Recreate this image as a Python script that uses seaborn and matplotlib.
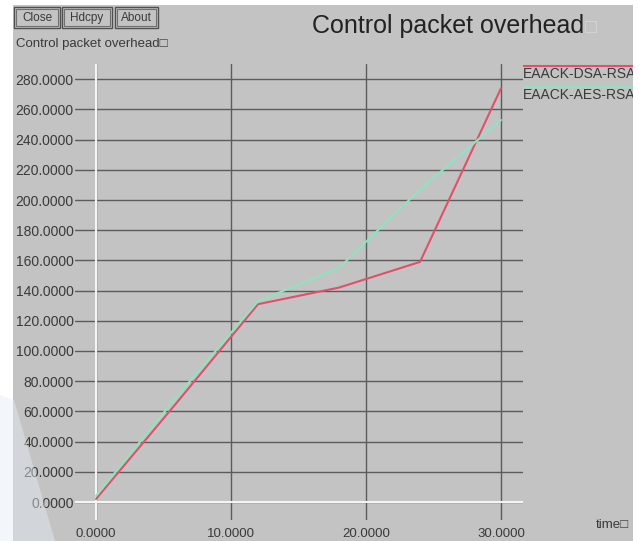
import numpy as np
import pandas as pd
import matplotlib
matplotlib.use("Agg")
import matplotlib.pyplot as plt
from matplotlib.patches import Rectangle, Polygon
import seaborn as sns

# --- data ---
time_pts = [0, 6, 12, 18, 24, 30]
dsa_rsa = [2, 66, 131, 142, 159, 274]
aes_rsa = [4, 70, 133, 155, 207, 253]
series_names = ["EAACK-DSA-RSA", "EAACK-AES-RSA"]
series_colors = ["#e0506a", "#8fe3c0"]
y_ticks = list(range(0, 281, 20))
x_ticks = [0, 10, 20, 30]

df = pd.concat([
    pd.DataFrame({"time": time_pts, "overhead": dsa_rsa, "series": series_names[0]}),
    pd.DataFrame({"time": time_pts, "overhead": aes_rsa, "series": series_names[1]}),
], ignore_index=True)

sns.set_style("white")
plt.rcParams["font.family"] = ["Liberation Sans", "DejaVu Sans"]

W, H = 639, 541
GRAY = "#c3c3c3"
TXT = "#3a3a3a"

fig = plt.figure(figsize=(W / 100, H / 100), dpi=100)
fig.patch.set_facecolor("white")

# window background, pixel coordinates
bg = fig.add_axes([13 / W, 0, 620 / W, 536 / H])
bg.set_xlim(13, 633)
bg.set_ylim(541, 5)
bg.set_facecolor(GRAY)
bg.axis("off")
bg.add_patch(Rectangle((13, 5), 620, 536, facecolor=GRAY, edgecolor="none", zorder=0))

# buttons
for x0, x1, label in [(14, 60, "Close"), (62, 112, "Hdcpy"), (115, 158, "About")]:
    bg.add_patch(Rectangle((x0, 7), x1 - x0, 21, facecolor="none", edgecolor="#505050", lw=1))
    bg.add_patch(Rectangle((x0 + 2, 9), x1 - x0 - 4, 17, facecolor="none", edgecolor="#707070", lw=0.8))
    bg.text((x0 + x1) / 2, 18, label, ha="center", va="center", fontsize=8.5, color=TXT)

bg.text(16, 44, "Control packet overhead\u25a1", ha="left", va="center", fontsize=9.5, color=TXT)
bg.text(312, 33, "Control packet overhead", ha="left", va="baseline", fontsize=18, color="#222222")
bg.text(585, 33, "\u25a1", ha="left", va="baseline", fontsize=14, color="#d8d8d8")
bg.text(596, 528, "time\u25a1", ha="left", va="baseline", fontsize=9.5, color=TXT)

# legend in xgraph style, clipped at window edge
for (ly, ty), name, col in zip([(66, 78), (87, 99)], series_names, series_colors):
    bg.plot([523, 640], [ly, ly], color=col, lw=1.5, solid_capstyle="butt", clip_on=True)
    bg.text(523, ty, name, ha="left", va="baseline", fontsize=10, color=TXT, clip_on=True)

# faint watermark at bottom-left
fig.patches.append(Polygon([(0, 1 - 395 / H), (14 / W, 1 - 400 / H), (55 / W, 0), (0, 0)],
                           closed=True, transform=fig.transFigure, facecolor="#e6edf4",
                           edgecolor="none", alpha=0.45, zorder=5))

# main plot
ax = fig.add_axes([75 / W, 1 - 520 / H, 448 / W, 456 / H])
ax.set_facecolor(GRAY)
ax.set_xlim(-21 / 13.5, 427 / 13.5)
ax.set_ylim(-18 / 1.51, 438 / 1.51)
for s in ax.spines.values():
    s.set_visible(False)

ax.set_xticks(x_ticks)
ax.set_yticks(y_ticks)
ax.set_xticklabels([f"{v:.4f}" for v in x_ticks])
ax.set_yticklabels([f"{v:.4f}" for v in y_ticks])
ax.tick_params(axis="both", length=0, labelsize=10, labelcolor=TXT)
ax.tick_params(axis="x", labelsize=9.5, pad=6)
ax.tick_params(axis="y", pad=1)
ax.grid(True, color="#5c5c5c", lw=1.0)
ax.set_axisbelow(True)
ax.axhline(0, color="#f4f4f4", lw=1.5, zorder=1)
ax.axvline(0, color="#f4f4f4", lw=1.5, zorder=1)

sns.lineplot(data=df, x="time", y="overhead", hue="series", palette=series_colors,
             hue_order=series_names, estimator=None, sort=False, lw=1.5,
             legend=False, ax=ax, zorder=3)
ax.set_xlabel("")
ax.set_ylabel("")

fig.savefig("out.png", dpi=100, facecolor=fig.get_facecolor())
